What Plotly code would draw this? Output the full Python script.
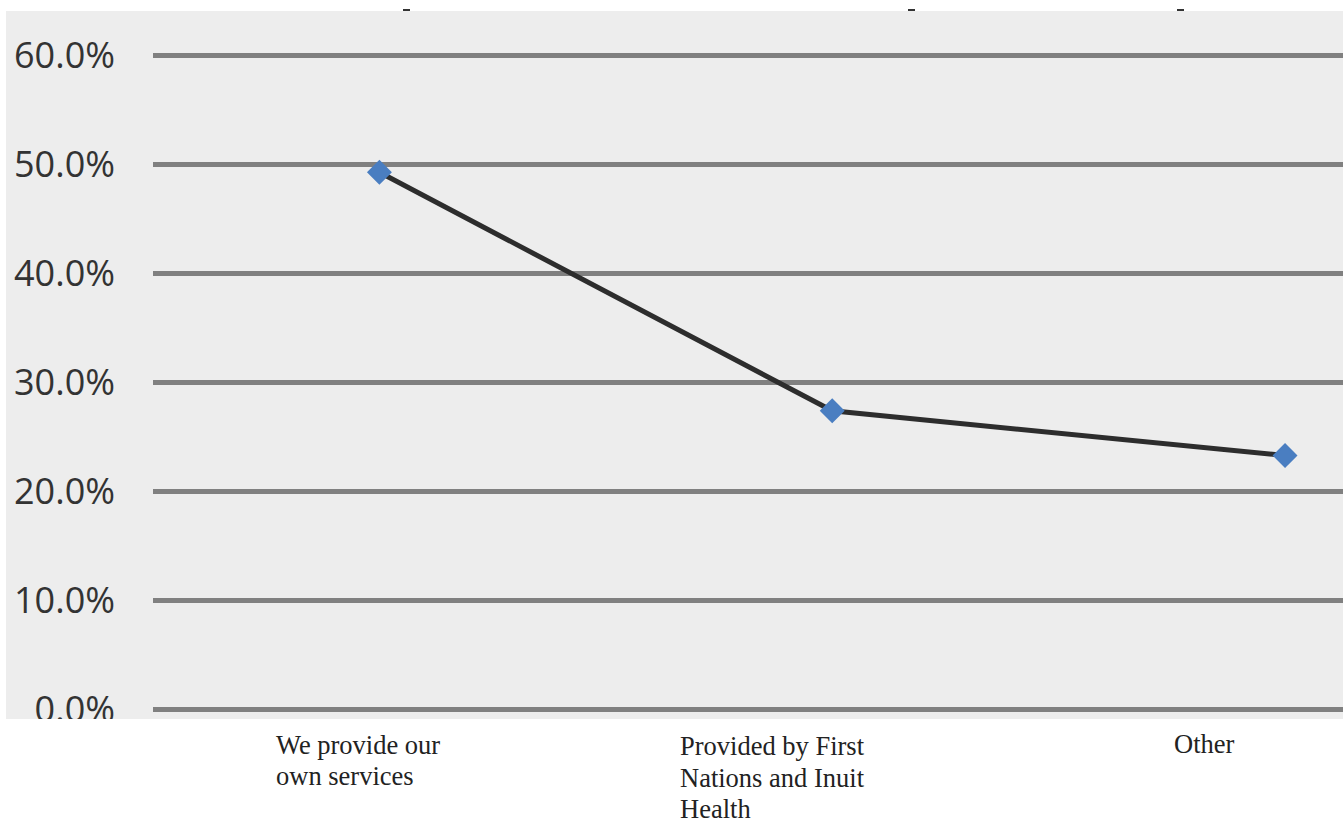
import plotly.graph_objects as go

# Survey responses: who provides the services
categories = ["We provide our own services",
              "Provided by First Nations and Inuit Health",
              "Other"]
label_lines = [["We provide our", "own services"],
               ["Provided by First", "Nations and Inuit", "Health"],
               ["Other"]]
shares = [49.3, 27.4, 23.3]
y_ticks = [0, 10, 20, 30, 40, 50, 60]
y_tick_text = ["0.0%", "10.0%", "20.0%", "30.0%", "40.0%", "50.0%", "60.0%"]

W, H = 1343, 823
M_L, M_R, M_T, M_B = 153, 0, 34, 92
PLOT_W = W - M_L - M_R
PLOT_H = H - M_T - M_B


def px_x(px):
    return (px - M_L) / PLOT_W


def px_y(py):
    return (H - M_B - py) / PLOT_H


x_idx = list(range(len(categories)))

fig = go.Figure()
fig.add_trace(go.Scatter(
    x=x_idx, y=shares,
    mode="lines+markers",
    line=dict(color="#2d2d2d", width=5),
    marker=dict(symbol="diamond", size=17, color="#4a7ec1",
                line=dict(color="#4a7ec1", width=2)),
    hoverinfo="skip", showlegend=False,
))

shapes = [
    # panel background
    dict(type="rect", xref="paper", yref="paper", layer="below",
         x0=px_x(6), x1=px_x(W), y0=px_y(719), y1=px_y(11),
         fillcolor="#ededed", line=dict(width=0)),
    # white strip under the panel
    dict(type="rect", xref="paper", yref="paper", layer="above",
         x0=px_x(0), x1=px_x(W), y0=px_y(H), y1=px_y(719),
         fillcolor="white", line=dict(width=0)),
]
# small marks along the top edge
for mx in (403, 908, 1177):
    shapes.append(dict(type="line", xref="paper", yref="paper", layer="above",
                       x0=px_x(mx), x1=px_x(mx + 7), y0=px_y(10), y1=px_y(10),
                       line=dict(color="#333333", width=2)))

# category labels, left aligned, one annotation per line
label_left = [277, 681, 1175]
label_top_mid = [745, 746, 744]
annotations = []
for lines, lx, ly in zip(label_lines, label_left, label_top_mid):
    for i, txt in enumerate(lines):
        annotations.append(dict(
            text=txt, xref="paper", yref="paper",
            x=px_x(lx - 3), y=px_y(ly + 31.5 * i),
            xanchor="left", yanchor="middle", showarrow=False,
            font=dict(family="Liberation Serif", size=26.5, color="#222222"),
        ))

fig.update_layout(
    width=W, height=H,
    margin=dict(l=M_L, r=M_R, t=M_T, b=M_B, pad=0),
    paper_bgcolor="white",
    plot_bgcolor="rgba(0,0,0,0)",
    shapes=shapes,
    annotations=annotations,
    xaxis=dict(range=[-0.5, 2.128], showticklabels=False, showgrid=False,
               zeroline=False, showline=False, fixedrange=True),
    yaxis=dict(range=[-2, 62], tickvals=y_ticks, ticktext=y_tick_text,
               showgrid=True, gridcolor="#808080", gridwidth=5,
               zeroline=False, showline=False, ticks="",
               ticklabelstandoff=37,
               tickfont=dict(family="Open Sans", size=36, color="#333333"),
               fixedrange=True),
)

fig.write_html("out.html", config={"displayModeBar": False})
